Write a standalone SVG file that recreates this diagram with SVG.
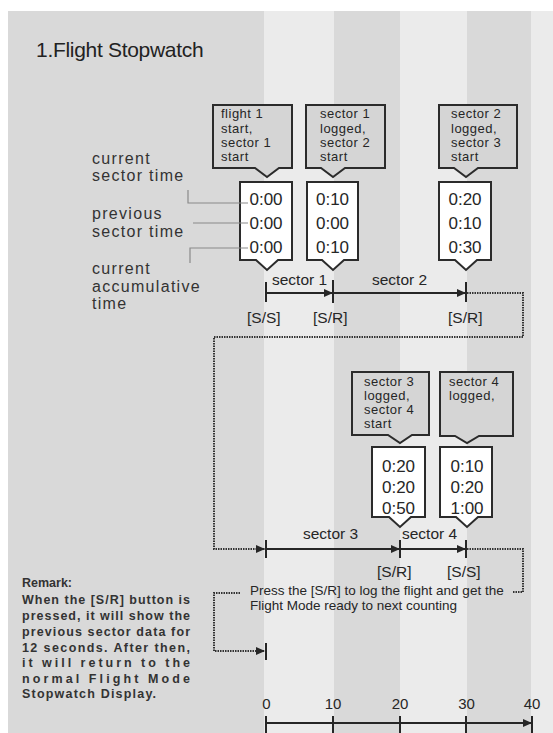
<svg xmlns="http://www.w3.org/2000/svg" width="553" height="733" viewBox="0 0 553 733">
<defs>
<style>
text{font-family:"Liberation Sans",Arial,sans-serif;fill:#262626}
.title{font-size:21px;letter-spacing:-0.3px;fill:#222}
.lbl{font-size:16px;letter-spacing:1.3px;fill:#333}
.co{font-size:13px;letter-spacing:0.5px}
.val{font-size:17px;text-anchor:middle}
.tl{font-size:15.5px}
.note{font-size:13.5px}
.rem{font-size:12.5px;font-weight:bold;fill:#333}
.num{font-size:15px;text-anchor:middle}
.callout{fill:#d5d5d5;stroke:#2b2b2b;stroke-width:2;stroke-linejoin:miter}
.disp{fill:#ffffff;stroke:#2b2b2b;stroke-width:2}
.line{fill:none;stroke:#262626;stroke-width:2}
.tick{fill:none;stroke:#262626;stroke-width:2}
.dot{fill:none;stroke:#333;stroke-width:2;stroke-dasharray:1.5 1}
.lead{fill:none;stroke:#8a8a8a;stroke-width:1.2}
</style>
<marker id="arr" markerUnits="userSpaceOnUse" markerWidth="9" markerHeight="8" refX="9" refY="4" orient="auto">
<path d="M0,0 L9,4 L0,8 Z" fill="#262626"/>
</marker>
</defs>

<g id="background">
<rect x="0" y="0" width="553" height="733" fill="#ffffff"/>
<rect x="8" y="11" width="545" height="722" fill="#d9d9d9"/>
<rect x="264" y="11" width="70" height="722" fill="#ebebeb"/>
<rect x="400" y="11" width="67" height="722" fill="#ebebeb"/>
<rect x="531" y="11" width="22" height="722" fill="#ebebeb"/>
</g>

<g id="title"><text class="title" x="36" y="57">1.Flight Stopwatch</text></g>

<g id="legend-labels">
<text class="lbl" x="92" y="164">current</text>
<text class="lbl" x="92" y="181">sector time</text>
<text class="lbl" x="92" y="219">previous</text>
<text class="lbl" x="92" y="237">sector time</text>
<text class="lbl" x="92" y="274">current</text>
<text class="lbl" x="92" y="292">accumulative</text>
<text class="lbl" x="92" y="309">time</text>
</g>

<g id="callout-1">
<path class="callout" d="M213,105 H292 V168 H279 L267,177 L255,168 H213 Z"/>
<text class="co" x="221" y="118">flight 1</text>
<text class="co" x="221" y="133">start,</text>
<text class="co" x="221" y="147">sector 1</text>
<text class="co" x="221" y="161">start</text>
</g>
<g id="callout-2">
<path class="callout" d="M306,105 H385 V168 H345 L333,177 L321,168 H306 Z"/>
<text class="co" x="320" y="118">sector 1</text>
<text class="co" x="320" y="133">logged,</text>
<text class="co" x="320" y="147">sector 2</text>
<text class="co" x="320" y="161">start</text>
</g>
<g id="callout-3">
<path class="callout" d="M439,105 H517 V168 H478 L466,177 L454,168 H439 Z"/>
<text class="co" x="451" y="118">sector 2</text>
<text class="co" x="451" y="133">logged,</text>
<text class="co" x="451" y="147">sector 3</text>
<text class="co" x="451" y="161">start</text>
</g>

<g id="display-1">
<path class="disp" d="M240,182 H292 V260 H278 L267,270 L256,260 H240 Z"/>
<text class="val" x="266" y="205">0:00</text>
<text class="val" x="266" y="229">0:00</text>
<text class="val" x="266" y="253">0:00</text>
</g>
<g id="display-2">
<path class="disp" d="M307,182 H358 V260 H344 L333,270 L322,260 H307 Z"/>
<text class="val" x="332.5" y="205">0:10</text>
<text class="val" x="332.5" y="229">0:00</text>
<text class="val" x="332.5" y="253">0:10</text>
</g>
<g id="display-3">
<path class="disp" d="M439,182 H491 V260 H477 L466,270 L455,260 H439 Z"/>
<text class="val" x="465" y="205">0:20</text>
<text class="val" x="465" y="229">0:10</text>
<text class="val" x="465" y="253">0:30</text>
</g>

<g id="callout-4">
<path class="callout" d="M352,372 H429 V435 H412 L400,443 L388,435 H352 Z"/>
<text class="co" x="364" y="386">sector 3</text>
<text class="co" x="364" y="400">logged,</text>
<text class="co" x="364" y="414">sector 4</text>
<text class="co" x="364" y="428">start</text>
</g>
<g id="callout-5">
<path class="callout" d="M440,372 H513 V436 H479 L467,443 L455,436 H440 Z"/>
<text class="co" x="449" y="386">sector 4</text>
<text class="co" x="449" y="400">logged,</text>
</g>

<g id="display-4">
<path class="disp" d="M372,447 H425 V517 H411 L400,527 L389,517 H372 Z"/>
<text class="val" x="398.5" y="472">0:20</text>
<text class="val" x="398.5" y="493">0:20</text>
<text class="val" x="398.5" y="514">0:50</text>
</g>
<g id="display-5">
<path class="disp" d="M440,447 H492 V517 H478 L467,527 L456,517 H440 Z"/>
<text class="val" x="467" y="472">0:10</text>
<text class="val" x="467" y="493">0:20</text>
<text class="val" x="467" y="514">1:00</text>
</g>

<g id="timeline-labels">
<text class="tl" x="272" y="285">sector 1</text>
<text class="tl" x="372" y="285">sector 2</text>
<text class="tl" x="247" y="323">[S/S]</text>
<text class="tl" x="313" y="323">[S/R]</text>
<text class="tl" x="448" y="323">[S/R]</text>
<text class="tl" x="303" y="539">sector 3</text>
<text class="tl" x="402" y="539">sector 4</text>
<text class="tl" x="377" y="577">[S/R]</text>
<text class="tl" x="447" y="577">[S/S]</text>
</g>

<g id="press-note">
<text class="note" x="250" y="595">Press the [S/R] to log the flight and get the</text>
<text class="note" x="250" y="610">Flight Mode ready to next counting</text>
</g>

<g id="remark">
<text class="rem" x="22" y="587">Remark:</text>
<text class="rem" x="22" y="604" textLength="168" lengthAdjust="spacing">When the [S/R] button is</text>
<text class="rem" x="22" y="620" textLength="168" lengthAdjust="spacing">pressed, it will show the</text>
<text class="rem" x="22" y="636" textLength="168" lengthAdjust="spacing">previous sector data for</text>
<text class="rem" x="22" y="652" textLength="168" lengthAdjust="spacing">12 seconds. After then,</text>
<text class="rem" x="22" y="667" textLength="168" lengthAdjust="spacing">it will return to the</text>
<text class="rem" x="22" y="683" textLength="168" lengthAdjust="spacing">normal Flight Mode</text>
<text class="rem" x="22" y="698" letter-spacing="1.2">Stopwatch Display.</text>
</g>

<g id="scale">
<text class="num" x="266.5" y="709">0</text>
<text class="num" x="333" y="709">10</text>
<text class="num" x="400" y="709">20</text>
<text class="num" x="466.5" y="709">30</text>
<text class="num" x="532" y="709">40</text>
</g>

<g id="connectors">
<path class="lead" d="M188,190 V203 H248"/>
<path class="lead" d="M193,223 H248"/>
<path class="lead" d="M190,263 V248 H248"/>

<path class="tick" d="M266,282 V302"/>
<path class="line" d="M266,293 H333" marker-end="url(#arr)"/>
<path class="tick" d="M333,280 V303"/>
<path class="line" d="M333,293 H466" marker-end="url(#arr)"/>
<path class="tick" d="M466,282 V302"/>
<path class="dot" d="M467,293 H523 V337 H214 V549 H265" marker-end="url(#arr)"/>

<path class="tick" d="M266,540 V558"/>
<path class="line" d="M266,549 H400" marker-end="url(#arr)"/>
<path class="tick" d="M400,540 V558"/>
<path class="line" d="M400,549 H466" marker-end="url(#arr)"/>
<path class="tick" d="M466,540 V558"/>
<path class="dot" d="M467,549 H523 V592 H513"/>

<path class="dot" d="M240,593 H214 V651 H265" marker-end="url(#arr)"/>
<path class="tick" d="M266,643 V660"/>

<path class="line" d="M266,723 H532" marker-end="url(#arr)"/>
<path class="tick" d="M266,716 V733 M333,716 V733 M400,716 V733 M466,716 V733 M532,716 V733"/>
</g>
</svg>
